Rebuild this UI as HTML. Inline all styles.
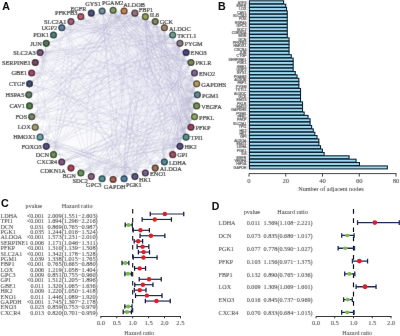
<!DOCTYPE html>
<html><head><meta charset="utf-8"><style>
html,body{margin:0;padding:0;background:#fff;}
body{width:400px;height:336px;overflow:hidden;font-family:"Liberation Serif",serif;}
svg{display:block;}
#wrap{width:400px;height:336px;}
</style></head><body><div id="wrap">
<svg width="400" height="336" viewBox="0 0 400 336" font-family="Liberation Serif">
<defs><filter id="bl" x="0" y="0" width="400" height="336" filterUnits="userSpaceOnUse"><feConvolveMatrix order="3" kernelMatrix="0.0181 0.0519 0.0181 0.0519 0.7200 0.0519 0.0181 0.0519 0.0181" edgeMode="duplicate" preserveAlpha="true"/></filter><filter id="id0" x="0" y="0" width="400" height="336" filterUnits="userSpaceOnUse"><feOffset dx="0" dy="0"/></filter></defs>
<g filter="url(#bl)">
<rect width="400" height="336" fill="#fff"/>
<defs><radialGradient id="gl" cx="0.68" cy="0.35" r="0.75"><stop offset="0" stop-color="#dcdcf0" stop-opacity="0.5"/><stop offset="0.6" stop-color="#e2e2f2" stop-opacity="0.3"/><stop offset="1" stop-color="#e8e8f5" stop-opacity="0"/></radialGradient></defs>
<ellipse cx="113.1" cy="94.85" rx="82.3" ry="82.6" fill="url(#gl)"/>
<path d="M113.1 10.2Q123.9 12.2 134.9 13.1M113.1 10.2Q123.7 13.8 134.9 13.1M113.1 10.2Q123.5 15.3 134.9 13.1M113.1 10.2Q129.0 35.2 155.2 21.6M113.1 10.2Q145.6 28.8 180.0 43.3M113.1 10.2Q143.3 33.5 180.0 43.3M113.1 10.2Q145.3 46.6 191.0 62.5M113.1 10.2Q141.6 52.0 191.0 62.5M113.1 10.2Q137.9 57.5 191.0 62.5M113.1 10.2Q152.4 49.8 196.7 83.8M113.1 10.2Q147.3 55.7 196.7 83.8M113.1 10.2Q142.1 61.5 196.7 83.8M113.1 10.2Q148.4 59.4 197.4 94.8M113.1 10.2Q142.5 65.3 197.4 94.8M113.1 10.2Q136.6 71.2 197.4 94.8M113.1 10.2Q131.9 82.2 191.0 127.2M113.1 10.2Q155.7 70.2 186.1 137.1M113.1 10.2Q145.8 90.6 134.9 176.6M113.1 10.2Q134.1 92.1 134.9 176.6M113.1 10.2Q122.5 93.6 134.9 176.6M113.1 10.2Q99.0 93.0 91.3 176.6M113.1 10.2Q87.3 91.5 91.3 176.6M113.1 10.2Q75.7 89.9 91.3 176.6M113.1 10.2Q87.7 75.3 31.7 116.7M113.1 10.2Q80.3 69.6 31.7 116.7M113.1 10.2Q72.8 63.9 31.7 116.7M113.1 10.2Q88.7 73.3 29.5 105.9M124.1 11.0Q137.7 44.8 172.7 35.0M124.1 11.0Q147.3 50.2 191.0 62.5M124.1 11.0Q160.8 47.0 196.7 83.8M124.1 11.0Q161.2 71.1 186.1 137.1M124.1 11.0Q152.3 75.4 186.1 137.1M124.1 11.0Q131.6 97.3 102.1 178.7M124.1 11.0Q83.4 72.0 35.2 127.2M124.1 11.0Q75.3 65.8 35.2 127.2M124.1 11.0Q90.7 69.1 28.8 94.9M124.1 11.0Q84.8 62.4 28.8 94.9M124.1 11.0Q78.9 55.8 28.8 94.9M124.1 11.0Q81.5 53.5 29.5 83.8M124.1 11.0Q76.4 46.9 29.5 83.8M124.1 11.0Q99.8 44.8 61.8 27.7M124.1 11.0Q98.6 40.4 61.8 27.7M124.1 11.0Q97.4 36.1 61.8 27.7M134.9 13.1Q143.1 22.1 155.2 21.6M134.9 13.1Q149.9 52.7 191.0 62.5M134.9 13.1Q146.4 56.7 191.0 62.5M134.9 13.1Q161.4 46.5 194.5 73.0M134.9 13.1Q168.1 46.5 196.7 83.8M134.9 13.1Q163.1 50.8 196.7 83.8M134.9 13.1Q162.9 56.5 197.4 94.8M134.9 13.1Q144.1 79.5 191.0 127.2M134.9 13.1Q147.7 80.4 186.1 137.1M134.9 13.1Q139.1 84.0 186.1 137.1M134.9 13.1Q130.4 87.6 186.1 137.1M134.9 13.1Q121.0 96.4 102.1 178.7M134.9 13.1Q100.6 85.2 40.1 137.2M134.9 13.1Q91.9 78.6 40.1 137.2M134.9 13.1Q83.3 71.9 40.1 137.2M134.9 13.1Q86.8 68.5 31.7 116.7M134.9 13.1Q79.6 61.3 31.7 116.7M134.9 13.1Q85.0 62.7 29.5 105.9M134.9 13.1Q95.7 59.3 35.2 62.5M134.9 13.1Q92.2 52.3 35.2 62.5M134.9 13.1Q88.5 35.3 40.1 52.5M134.9 13.1Q93.6 37.3 46.2 43.3M134.9 13.1Q96.0 30.7 53.5 35.0M134.9 13.1Q103.6 22.6 70.9 21.6M134.9 13.1Q117.8 23.4 102.1 11.0M145.4 16.7Q147.9 24.1 155.2 21.6M145.4 16.7Q147.5 24.8 155.2 21.6M145.4 16.7Q150.1 30.5 164.4 27.7M145.4 16.7Q148.9 48.0 180.0 43.3M145.4 16.7Q172.6 55.0 197.4 94.8M145.4 16.7Q153.6 71.4 196.7 105.9M145.4 16.7Q147.4 75.0 196.7 105.9M145.4 16.7Q141.1 78.6 196.7 105.9M145.4 16.7Q162.7 70.3 194.5 116.7M145.4 16.7Q155.7 73.8 194.5 116.7M145.4 16.7Q165.0 73.3 191.0 127.2M145.4 16.7Q157.3 76.5 191.0 127.2M145.4 16.7Q146.3 85.9 180.0 146.4M145.4 16.7Q156.7 86.2 172.7 154.7M145.4 16.7Q147.0 88.1 172.7 154.7M145.4 16.7Q149.4 94.8 145.4 173.0M145.4 16.7Q137.6 98.1 124.1 178.7M145.4 16.7Q126.2 96.6 124.1 178.7M145.4 16.7Q98.3 84.9 53.5 154.7M145.4 16.7Q88.6 78.5 53.5 154.7M145.4 16.7Q113.1 45.6 80.8 16.7M145.4 16.7Q113.1 41.1 80.8 16.7M145.4 16.7Q113.1 36.6 80.8 16.7M145.4 16.7Q118.1 18.0 91.3 13.1M155.2 21.6Q150.0 39.4 164.4 27.7M155.2 21.6Q161.8 70.7 196.7 105.9M155.2 21.6Q173.8 69.7 194.5 116.7M155.2 21.6Q167.1 72.4 194.5 116.7M155.2 21.6Q160.5 75.2 194.5 116.7M155.2 21.6Q183.6 70.9 191.0 127.2M155.2 21.6Q176.2 73.4 191.0 127.2M155.2 21.6Q168.9 75.9 191.0 127.2M155.2 21.6Q166.1 80.6 186.1 137.1M155.2 21.6Q146.5 101.5 124.1 178.7M155.2 21.6Q135.5 99.3 124.1 178.7M155.2 21.6Q124.5 97.1 124.1 178.7M155.2 21.6Q104.7 63.3 40.1 52.5M155.2 21.6Q102.6 55.3 40.1 52.5M155.2 21.6Q100.4 47.2 40.1 52.5M155.2 21.6Q108.9 30.4 61.8 27.7M155.2 21.6Q108.5 23.8 61.8 27.7M155.2 21.6Q108.0 17.3 61.8 27.7M164.4 27.7Q161.2 46.6 180.0 43.3M164.4 27.7Q160.1 47.6 180.0 43.3M164.4 27.7Q165.3 48.9 186.1 52.5M164.4 27.7Q166.5 84.2 186.1 137.1M164.4 27.7Q171.3 87.2 180.0 146.4M164.4 27.7Q163.0 88.3 180.0 146.4M164.4 27.7Q153.6 94.8 164.4 162.0M164.4 27.7Q131.1 99.7 124.1 178.7M164.4 27.7Q120.6 96.9 124.1 178.7M164.4 27.7Q92.7 64.3 31.7 116.7M164.4 27.7Q104.1 72.9 29.5 83.8M164.4 27.7Q130.9 28.3 102.1 11.0M164.4 27.7Q132.0 23.9 102.1 11.0M172.7 35.0Q174.5 47.6 186.1 52.5M172.7 35.0Q173.2 48.5 186.1 52.5M172.7 35.0Q173.1 54.6 191.0 62.5M172.7 35.0Q171.2 55.9 191.0 62.5M172.7 35.0Q169.3 57.2 191.0 62.5M172.7 35.0Q100.7 80.8 46.2 146.4M172.7 35.0Q92.9 71.9 46.2 146.4M172.7 35.0Q104.9 84.2 40.1 137.2M172.7 35.0Q97.8 74.9 40.1 137.2M172.7 35.0Q114.2 96.7 31.7 116.7M172.7 35.0Q108.5 86.8 31.7 116.7M172.7 35.0Q102.8 76.9 31.7 116.7M172.7 35.0Q103.5 71.6 28.8 94.9M172.7 35.0Q108.2 57.4 40.1 52.5M172.7 35.0Q107.0 48.1 40.1 52.5M172.7 35.0Q105.7 38.8 40.1 52.5M172.7 35.0Q116.8 38.6 61.8 27.7M180.0 43.3Q174.6 73.9 197.4 94.8M180.0 43.3Q171.0 75.1 197.4 94.8M180.0 43.3Q167.4 76.4 197.4 94.8M180.0 43.3Q173.6 90.9 186.1 137.1M180.0 43.3Q167.0 91.3 186.1 137.1M180.0 43.3Q160.0 101.0 164.4 162.0M180.0 43.3Q157.2 109.9 134.9 176.6M180.0 43.3Q147.9 106.7 134.9 176.6M180.0 43.3Q138.6 103.6 134.9 176.6M180.0 43.3Q141.1 113.6 91.3 176.6M180.0 43.3Q131.8 107.4 91.3 176.6M180.0 43.3Q122.5 101.2 91.3 176.6M180.0 43.3Q112.8 94.5 53.5 154.7M180.0 43.3Q105.0 85.6 53.5 154.7M180.0 43.3Q119.0 103.6 40.1 137.2M180.0 43.3Q112.4 93.8 40.1 137.2M180.0 43.3Q106.9 79.8 29.5 105.9M180.0 43.3Q109.8 44.6 40.1 52.5M180.0 43.3Q123.1 44.3 70.9 21.6M180.0 43.3Q128.8 36.2 80.8 16.7M186.1 52.5Q173.8 64.8 191.0 62.5M186.1 52.5Q169.9 83.5 196.7 105.9M186.1 52.5Q173.2 90.9 191.0 127.2M186.1 52.5Q167.9 91.2 191.0 127.2M186.1 52.5Q167.8 117.6 134.9 176.6M186.1 52.5Q159.2 114.0 134.9 176.6M186.1 52.5Q144.0 112.7 113.1 179.4M186.1 52.5Q135.0 109.6 102.1 178.7M186.1 52.5Q126.2 103.7 102.1 178.7M186.1 52.5Q119.4 100.4 80.8 173.0M186.1 52.5Q104.7 63.3 28.8 94.9M186.1 52.5Q112.5 90.3 31.7 73.0M186.1 52.5Q111.1 79.5 31.7 73.0M186.1 52.5Q109.7 68.7 31.7 73.0M186.1 52.5Q124.7 51.3 70.9 21.6M186.1 52.5Q126.9 43.2 70.9 21.6M186.1 52.5Q129.1 35.2 70.9 21.6M191.0 62.5Q166.3 116.9 145.4 173.0M191.0 62.5Q150.6 113.4 134.9 176.6M191.0 62.5Q166.2 125.6 124.1 178.7M191.0 62.5Q158.1 120.9 124.1 178.7M191.0 62.5Q149.9 116.2 124.1 178.7M191.0 62.5Q146.9 128.7 80.8 173.0M191.0 62.5Q139.2 121.0 80.8 173.0M191.0 62.5Q111.9 90.3 29.5 105.9M191.0 62.5Q108.9 79.0 29.5 105.9M191.0 62.5Q105.8 67.7 29.5 105.9M191.0 62.5Q130.0 53.8 80.8 16.7M194.5 73.0Q175.2 86.6 197.4 94.8M194.5 73.0Q178.9 94.8 194.5 116.7M194.5 73.0Q177.7 99.1 191.0 127.2M194.5 73.0Q173.9 98.8 191.0 127.2M194.5 73.0Q170.1 98.6 191.0 127.2M194.5 73.0Q181.0 103.8 186.1 137.1M194.5 73.0Q179.7 112.8 172.7 154.7M194.5 73.0Q171.1 114.6 164.4 162.0M194.5 73.0Q125.9 120.8 46.2 146.4M194.5 73.0Q120.7 110.4 46.2 146.4M194.5 73.0Q117.8 112.3 31.7 116.7M194.5 73.0Q116.8 66.4 40.1 52.5M196.7 83.8Q184.5 99.5 194.5 116.7M196.7 83.8Q182.2 99.4 194.5 116.7M196.7 83.8Q179.9 99.2 194.5 116.7M196.7 83.8Q185.5 104.4 191.0 127.2M196.7 83.8Q182.4 104.0 191.0 127.2M196.7 83.8Q179.4 103.6 191.0 127.2M196.7 83.8Q170.3 106.3 186.1 137.1M196.7 83.8Q181.0 118.0 172.7 154.7M196.7 83.8Q176.1 116.3 172.7 154.7M196.7 83.8Q171.1 114.6 172.7 154.7M196.7 83.8Q146.8 128.6 102.1 178.7M196.7 83.8Q140.1 122.0 102.1 178.7M196.7 83.8Q116.0 102.0 46.2 146.4M196.7 83.8Q112.9 93.8 31.7 116.7M196.7 83.8Q110.6 82.3 31.7 116.7M196.7 83.8Q140.6 58.8 102.1 11.0M196.7 83.8Q145.7 52.2 102.1 11.0M197.4 94.8Q182.3 99.4 196.7 105.9M197.4 94.8Q181.5 99.4 196.7 105.9M197.4 94.8Q179.4 103.6 194.5 116.7M197.4 94.8Q190.9 115.8 186.1 137.1M197.4 94.8Q174.3 120.3 172.7 154.7M197.4 94.8Q170.1 118.5 172.7 154.7M197.4 94.8Q165.2 120.6 164.4 162.0M197.4 94.8Q160.5 118.3 164.4 162.0M197.4 94.8Q155.8 116.0 164.4 162.0M197.4 94.8Q179.3 133.1 155.2 168.1M197.4 94.8Q151.4 133.2 113.1 179.4M197.4 94.8Q145.5 127.3 113.1 179.4M197.4 94.8Q134.7 132.4 70.9 168.1M197.4 94.8Q129.6 123.5 70.9 168.1M197.4 94.8Q124.5 114.7 70.9 168.1M197.4 94.8Q119.3 126.2 35.2 127.2M197.4 94.8Q118.6 78.6 46.2 43.3M197.4 94.8Q122.2 68.0 46.2 43.3M197.4 94.8Q129.7 61.0 61.8 27.7M197.4 94.8Q132.0 70.1 91.3 13.1M196.7 105.9Q181.2 123.2 180.0 146.4M196.7 105.9Q178.4 122.0 180.0 146.4M196.7 105.9Q167.7 131.4 155.2 168.1M196.7 105.9Q161.5 132.2 145.4 173.0M196.7 105.9Q154.0 141.6 113.1 179.4M196.7 105.9Q148.8 135.7 113.1 179.4M196.7 105.9Q140.7 130.9 102.1 178.7M196.7 105.9Q135.6 124.3 102.1 178.7M196.7 105.9Q132.6 142.0 61.8 162.0M196.7 105.9Q128.7 132.6 61.8 162.0M196.7 105.9Q124.8 123.2 61.8 162.0M196.7 105.9Q113.7 97.8 40.1 137.2M196.7 105.9Q120.0 84.4 70.9 21.6M196.7 105.9Q128.6 74.5 80.8 16.7M196.7 105.9Q134.9 66.4 80.8 16.7M194.5 116.7Q182.5 123.7 186.1 137.1M194.5 116.7Q181.1 123.1 186.1 137.1M194.5 116.7Q179.7 122.5 186.1 137.1M194.5 116.7Q181.1 128.5 180.0 146.4M194.5 116.7Q179.1 127.5 180.0 146.4M194.5 116.7Q177.0 126.5 180.0 146.4M194.5 116.7Q177.0 137.7 164.4 162.0M194.5 116.7Q173.8 135.6 164.4 162.0M194.5 116.7Q128.9 141.4 61.8 162.0M194.5 116.7Q125.7 132.1 61.8 162.0M194.5 116.7Q122.5 122.8 61.8 162.0M194.5 116.7Q111.7 117.0 29.5 105.9M191.0 127.2Q173.9 124.9 186.1 137.1M191.0 127.2Q172.5 129.3 180.0 146.4M191.0 127.2Q171.2 128.5 180.0 146.4M191.0 127.2Q169.8 127.7 180.0 146.4M191.0 127.2Q135.3 148.6 80.8 173.0M191.0 127.2Q125.8 142.2 61.8 162.0M191.0 127.2Q123.3 133.1 61.8 162.0M191.0 127.2Q118.0 85.0 40.1 52.5M191.0 127.2Q123.2 74.4 40.1 52.5M191.0 127.2Q119.3 86.7 61.8 27.7M186.1 137.1Q174.4 136.0 180.0 146.4M186.1 137.1Q173.8 135.5 180.0 146.4M186.1 137.1Q150.5 159.9 113.1 179.4M186.1 137.1Q147.6 154.7 113.1 179.4M186.1 137.1Q141.7 153.0 102.1 178.7M186.1 137.1Q138.8 147.1 102.1 178.7M186.1 137.1Q135.9 141.3 102.1 178.7M186.1 137.1Q121.8 161.3 53.5 154.7M186.1 137.1Q120.6 152.0 53.5 154.7M186.1 137.1Q119.4 142.7 53.5 154.7M186.1 137.1Q104.6 120.0 29.5 83.8M186.1 137.1Q108.3 109.0 29.5 83.8M186.1 137.1Q148.5 71.1 102.1 11.0M180.0 146.4Q157.8 139.7 164.4 162.0M180.0 146.4Q156.7 138.6 164.4 162.0M180.0 146.4Q144.1 148.8 124.1 178.7M180.0 146.4Q139.1 147.7 113.1 179.4M180.0 146.4Q128.5 152.3 80.8 173.0M180.0 146.4Q126.6 145.4 80.8 173.0M180.0 146.4Q124.7 138.4 80.8 173.0M180.0 146.4Q125.0 154.8 70.9 168.1M180.0 146.4Q104.9 136.0 31.7 116.7M180.0 146.4Q107.0 125.6 31.7 116.7M180.0 146.4Q109.1 115.2 31.7 116.7M180.0 146.4Q120.1 90.1 91.3 13.1M180.0 146.4Q129.4 83.9 91.3 13.1M172.7 154.7Q129.6 143.6 102.1 178.7M164.4 162.0Q154.6 157.2 155.2 168.1M164.4 162.0Q136.8 164.8 113.1 179.4M164.4 162.0Q131.0 161.8 102.1 178.7M164.4 162.0Q125.9 159.3 91.3 176.6M164.4 162.0Q124.9 154.2 91.3 176.6M164.4 162.0Q108.7 102.7 29.5 83.8M164.4 162.0Q100.5 104.5 61.8 27.7M164.4 162.0Q109.9 97.3 61.8 27.7M164.4 162.0Q120.5 91.7 102.1 11.0M155.2 168.1Q117.6 164.5 80.8 173.0M155.2 168.1Q103.4 118.5 31.7 116.7M155.2 168.1Q100.3 111.7 31.7 73.0M155.2 168.1Q109.2 99.4 35.2 62.5M155.2 168.1Q107.9 100.2 40.1 52.5M155.2 168.1Q115.9 92.1 40.1 52.5M145.4 173.0Q113.1 159.4 80.8 173.0M145.4 173.0Q90.3 162.1 40.1 137.2M145.4 173.0Q92.8 154.7 40.1 137.2M134.9 176.6Q109.3 152.4 80.8 173.0M134.9 176.6Q109.6 148.6 80.8 173.0M134.9 176.6Q93.0 154.3 46.2 146.4M134.9 176.6Q95.1 148.1 46.2 146.4M134.9 176.6Q84.5 164.1 40.1 137.2M134.9 176.6Q87.2 157.5 40.1 137.2M134.9 176.6Q90.0 150.9 40.1 137.2M134.9 176.6Q88.1 116.8 35.2 62.5M134.9 176.6Q96.1 109.9 35.2 62.5M134.9 176.6Q85.1 116.4 40.1 52.5M134.9 176.6Q93.8 109.7 40.1 52.5M124.1 178.7Q108.1 95.5 102.1 11.0M113.1 179.4Q92.0 157.4 61.8 162.0M113.1 179.4Q86.9 148.2 46.2 146.4M113.1 179.4Q89.2 143.6 46.2 146.4M113.1 179.4Q91.5 138.9 46.2 146.4M113.1 179.4Q100.8 100.0 53.5 35.0M113.1 179.4Q112.0 94.9 102.1 11.0M113.1 179.4Q123.8 94.2 102.1 11.0M113.1 179.4Q135.6 93.4 102.1 11.0M102.1 178.7Q74.1 162.7 46.2 146.4M91.3 176.6Q71.1 112.3 40.1 52.5M91.3 176.6Q79.8 108.7 40.1 52.5M80.8 173.0Q79.5 163.2 70.9 168.1M80.8 173.0Q79.8 162.5 70.9 168.1M80.8 173.0Q80.2 161.9 70.9 168.1M70.9 168.1Q69.3 152.2 53.5 154.7M61.8 162.0Q57.3 137.8 35.2 127.2M61.8 162.0Q53.3 124.4 28.8 94.9M53.5 154.7Q53.7 140.6 40.1 137.2M53.5 154.7Q58.2 87.6 70.9 21.6M53.5 154.7Q67.5 88.8 70.9 21.6M53.5 154.7Q76.8 90.0 70.9 21.6M53.5 154.7Q64.8 78.4 102.1 11.0M53.5 154.7Q74.9 81.8 102.1 11.0M46.2 146.4Q51.4 130.6 35.2 127.2M46.2 146.4Q52.7 129.8 35.2 127.2M46.2 146.4Q58.0 109.7 29.5 83.8M40.1 137.2Q51.8 98.9 35.2 62.5M35.2 127.2Q41.1 94.8 35.2 62.5M29.5 105.9Q60.9 73.1 61.8 27.7M28.8 94.9Q55.2 79.3 40.1 52.5M28.8 94.9Q45.5 71.8 46.2 43.3M28.8 94.9Q49.1 73.0 46.2 43.3M29.5 83.8Q46.5 72.2 40.1 52.5M29.5 83.8Q48.7 72.9 40.1 52.5M29.5 83.8Q50.9 73.7 40.1 52.5M29.5 83.8Q44.6 66.4 46.2 43.3M29.5 83.8Q47.4 67.6 46.2 43.3M35.2 62.5Q58.9 47.1 70.9 21.6M35.2 62.5Q61.8 49.6 70.9 21.6M40.1 52.5Q70.7 31.3 102.1 11.0M46.2 43.3Q70.6 39.3 80.8 16.7M46.2 43.3Q77.2 32.5 102.1 11.0M46.2 43.3Q79.5 36.4 102.1 11.0M70.9 21.6Q89.5 25.1 102.1 11.0" fill="none" stroke="#a8a8cc" stroke-opacity="0.35" stroke-width="0.55"/>
<circle cx="113.10" cy="10.25" r="2.95" fill="rgb(130,154,97)" stroke="rgb(49,63,31)" stroke-width="1.25"/>
<circle cx="124.10" cy="10.97" r="2.95" fill="rgb(195,130,81)" stroke="rgb(85,49,22)" stroke-width="1.25"/>
<circle cx="134.92" cy="13.13" r="2.95" fill="rgb(154,113,122)" stroke="rgb(63,40,45)" stroke-width="1.25"/>
<circle cx="145.36" cy="16.69" r="2.95" fill="rgb(154,163,89)" stroke="rgb(63,67,27)" stroke-width="1.25"/>
<circle cx="155.25" cy="21.58" r="2.95" fill="rgb(130,138,89)" stroke="rgb(49,54,27)" stroke-width="1.25"/>
<circle cx="164.42" cy="27.73" r="2.95" fill="rgb(163,138,105)" stroke="rgb(67,54,36)" stroke-width="1.25"/>
<circle cx="172.71" cy="35.03" r="2.95" fill="rgb(105,163,146)" stroke="rgb(36,67,58)" stroke-width="1.25"/>
<circle cx="179.98" cy="43.35" r="2.95" fill="rgb(138,122,138)" stroke="rgb(54,45,54)" stroke-width="1.25"/>
<circle cx="186.11" cy="52.55" r="2.95" fill="rgb(72,72,130)" stroke="rgb(18,18,49)" stroke-width="1.25"/>
<circle cx="190.98" cy="62.47" r="2.95" fill="rgb(122,138,89)" stroke="rgb(45,54,27)" stroke-width="1.25"/>
<circle cx="194.53" cy="72.95" r="2.95" fill="rgb(122,105,146)" stroke="rgb(45,36,58)" stroke-width="1.25"/>
<circle cx="196.68" cy="83.81" r="2.95" fill="rgb(179,154,97)" stroke="rgb(76,63,31)" stroke-width="1.25"/>
<circle cx="197.40" cy="94.85" r="2.95" fill="rgb(97,138,146)" stroke="rgb(31,54,58)" stroke-width="1.25"/>
<circle cx="196.68" cy="105.89" r="2.95" fill="rgb(122,146,89)" stroke="rgb(45,58,27)" stroke-width="1.25"/>
<circle cx="194.53" cy="116.75" r="2.95" fill="rgb(146,171,97)" stroke="rgb(58,72,31)" stroke-width="1.25"/>
<circle cx="190.98" cy="127.23" r="2.95" fill="rgb(163,64,89)" stroke="rgb(67,13,27)" stroke-width="1.25"/>
<circle cx="186.11" cy="137.15" r="2.95" fill="rgb(89,146,138)" stroke="rgb(27,58,54)" stroke-width="1.25"/>
<circle cx="179.98" cy="146.35" r="2.95" fill="rgb(89,81,130)" stroke="rgb(27,22,49)" stroke-width="1.25"/>
<circle cx="172.71" cy="154.67" r="2.95" fill="rgb(163,81,105)" stroke="rgb(67,22,36)" stroke-width="1.25"/>
<circle cx="164.42" cy="161.97" r="2.95" fill="rgb(81,138,154)" stroke="rgb(22,54,63)" stroke-width="1.25"/>
<circle cx="155.25" cy="168.12" r="2.95" fill="rgb(154,113,89)" stroke="rgb(63,40,27)" stroke-width="1.25"/>
<circle cx="145.36" cy="173.01" r="2.95" fill="rgb(122,97,138)" stroke="rgb(45,31,54)" stroke-width="1.25"/>
<circle cx="134.92" cy="176.57" r="2.95" fill="rgb(97,89,130)" stroke="rgb(31,27,49)" stroke-width="1.25"/>
<circle cx="124.10" cy="178.73" r="2.95" fill="rgb(81,130,171)" stroke="rgb(22,49,72)" stroke-width="1.25"/>
<circle cx="113.10" cy="179.45" r="2.95" fill="rgb(171,97,81)" stroke="rgb(72,31,22)" stroke-width="1.25"/>
<circle cx="102.10" cy="178.73" r="2.95" fill="rgb(89,146,154)" stroke="rgb(27,58,63)" stroke-width="1.25"/>
<circle cx="91.28" cy="176.57" r="2.95" fill="rgb(138,105,130)" stroke="rgb(54,36,49)" stroke-width="1.25"/>
<circle cx="80.84" cy="173.01" r="2.95" fill="rgb(97,154,89)" stroke="rgb(31,63,27)" stroke-width="1.25"/>
<circle cx="70.95" cy="168.12" r="2.95" fill="rgb(179,64,89)" stroke="rgb(76,13,27)" stroke-width="1.25"/>
<circle cx="61.78" cy="161.97" r="2.95" fill="rgb(130,89,130)" stroke="rgb(49,27,49)" stroke-width="1.25"/>
<circle cx="53.49" cy="154.67" r="2.95" fill="rgb(113,146,81)" stroke="rgb(40,58,22)" stroke-width="1.25"/>
<circle cx="46.22" cy="146.35" r="2.95" fill="rgb(89,81,130)" stroke="rgb(27,22,49)" stroke-width="1.25"/>
<circle cx="40.09" cy="137.15" r="2.95" fill="rgb(113,163,179)" stroke="rgb(40,67,76)" stroke-width="1.25"/>
<circle cx="35.22" cy="127.23" r="2.95" fill="rgb(163,163,113)" stroke="rgb(67,67,40)" stroke-width="1.25"/>
<circle cx="31.67" cy="116.75" r="2.95" fill="rgb(122,138,105)" stroke="rgb(45,54,36)" stroke-width="1.25"/>
<circle cx="29.52" cy="105.89" r="2.95" fill="rgb(89,130,81)" stroke="rgb(27,49,22)" stroke-width="1.25"/>
<circle cx="28.80" cy="94.85" r="2.95" fill="rgb(97,130,105)" stroke="rgb(31,49,36)" stroke-width="1.25"/>
<circle cx="29.52" cy="83.81" r="2.95" fill="rgb(64,81,122)" stroke="rgb(13,22,45)" stroke-width="1.25"/>
<circle cx="31.67" cy="72.95" r="2.95" fill="rgb(163,72,113)" stroke="rgb(67,18,40)" stroke-width="1.25"/>
<circle cx="35.22" cy="62.47" r="2.95" fill="rgb(130,72,97)" stroke="rgb(49,18,31)" stroke-width="1.25"/>
<circle cx="40.09" cy="52.55" r="2.95" fill="rgb(122,89,130)" stroke="rgb(45,27,49)" stroke-width="1.25"/>
<circle cx="46.22" cy="43.35" r="2.95" fill="rgb(81,122,89)" stroke="rgb(22,45,27)" stroke-width="1.25"/>
<circle cx="53.49" cy="35.03" r="2.95" fill="rgb(81,130,122)" stroke="rgb(22,49,45)" stroke-width="1.25"/>
<circle cx="61.78" cy="27.73" r="2.95" fill="rgb(97,130,163)" stroke="rgb(31,49,67)" stroke-width="1.25"/>
<circle cx="70.95" cy="21.58" r="2.95" fill="rgb(163,97,130)" stroke="rgb(67,31,49)" stroke-width="1.25"/>
<circle cx="80.84" cy="16.69" r="2.95" fill="rgb(179,97,113)" stroke="rgb(76,31,40)" stroke-width="1.25"/>
<circle cx="91.28" cy="13.13" r="2.95" fill="rgb(72,81,130)" stroke="rgb(18,22,49)" stroke-width="1.25"/>
<circle cx="102.10" cy="10.97" r="2.95" fill="rgb(113,146,163)" stroke="rgb(40,58,67)" stroke-width="1.25"/>
<text x="102.07" y="4.60" font-size="6.6" textLength="21.35" lengthAdjust="spacingAndGlyphs" fill="#222" stroke="#222" stroke-width="0.2">PGAM2</text>
<text x="123.20" y="7.20" font-size="6.6" textLength="21.70" lengthAdjust="spacingAndGlyphs" fill="#222" stroke="#222" stroke-width="0.2">ALDOB</text>
<text x="138.70" y="11.70" font-size="6.6" textLength="14.36" lengthAdjust="spacingAndGlyphs" fill="#222" stroke="#222" stroke-width="0.2">FBP1</text>
<text x="149.80" y="16.80" font-size="6.6" textLength="9.10" lengthAdjust="spacingAndGlyphs" fill="#222" stroke="#222" stroke-width="0.2">IL6</text>
<text x="159.75" y="24.38" font-size="6.6" textLength="13.30" lengthAdjust="spacingAndGlyphs" fill="#222" stroke="#222" stroke-width="0.2">GCK</text>
<text x="168.92" y="30.53" font-size="6.6" textLength="21.70" lengthAdjust="spacingAndGlyphs" fill="#222" stroke="#222" stroke-width="0.2">ALDOC</text>
<text x="177.21" y="37.83" font-size="6.6" textLength="19.24" lengthAdjust="spacingAndGlyphs" fill="#222" stroke="#222" stroke-width="0.2">TKTL1</text>
<text x="184.48" y="46.15" font-size="6.6" textLength="18.20" lengthAdjust="spacingAndGlyphs" fill="#222" stroke="#222" stroke-width="0.2">PYGM</text>
<text x="190.61" y="55.35" font-size="6.6" textLength="16.10" lengthAdjust="spacingAndGlyphs" fill="#222" stroke="#222" stroke-width="0.2">ENO3</text>
<text x="195.48" y="65.27" font-size="6.6" textLength="16.10" lengthAdjust="spacingAndGlyphs" fill="#222" stroke="#222" stroke-width="0.2">PKLR</text>
<text x="199.03" y="75.75" font-size="6.6" textLength="16.10" lengthAdjust="spacingAndGlyphs" fill="#222" stroke="#222" stroke-width="0.2">ENO2</text>
<text x="201.18" y="86.61" font-size="6.6" textLength="25.21" lengthAdjust="spacingAndGlyphs" fill="#222" stroke="#222" stroke-width="0.2">GAPDHS</text>
<text x="201.90" y="97.65" font-size="6.6" textLength="16.81" lengthAdjust="spacingAndGlyphs" fill="#222" stroke="#222" stroke-width="0.2">PGM1</text>
<text x="201.18" y="108.69" font-size="6.6" textLength="20.53" lengthAdjust="spacingAndGlyphs" fill="#222" stroke="#222" stroke-width="0.2">VEGFA</text>
<text x="199.03" y="119.55" font-size="6.6" textLength="15.41" lengthAdjust="spacingAndGlyphs" fill="#222" stroke="#222" stroke-width="0.2">PFKL</text>
<text x="195.48" y="130.03" font-size="6.6" textLength="15.06" lengthAdjust="spacingAndGlyphs" fill="#222" stroke="#222" stroke-width="0.2">PFKP</text>
<text x="190.61" y="139.95" font-size="6.6" textLength="12.60" lengthAdjust="spacingAndGlyphs" fill="#222" stroke="#222" stroke-width="0.2">TPI1</text>
<text x="184.48" y="149.15" font-size="6.6" textLength="12.25" lengthAdjust="spacingAndGlyphs" fill="#222" stroke="#222" stroke-width="0.2">HK2</text>
<text x="177.21" y="157.47" font-size="6.6" textLength="10.15" lengthAdjust="spacingAndGlyphs" fill="#222" stroke="#222" stroke-width="0.2">GPI</text>
<text x="168.92" y="164.77" font-size="6.6" textLength="17.50" lengthAdjust="spacingAndGlyphs" fill="#222" stroke="#222" stroke-width="0.2">LDHA</text>
<text x="159.75" y="170.92" font-size="6.6" textLength="22.05" lengthAdjust="spacingAndGlyphs" fill="#222" stroke="#222" stroke-width="0.2">ALDOA</text>
<text x="150.00" y="176.40" font-size="6.6" textLength="16.10" lengthAdjust="spacingAndGlyphs" fill="#222" stroke="#222" stroke-width="0.2">ENO1</text>
<text x="139.00" y="182.00" font-size="6.6" textLength="12.25" lengthAdjust="spacingAndGlyphs" fill="#222" stroke="#222" stroke-width="0.2">HK1</text>
<text x="126.00" y="187.00" font-size="6.6" textLength="15.75" lengthAdjust="spacingAndGlyphs" fill="#222" stroke="#222" stroke-width="0.2">PGK1</text>
<text x="103.85" y="189.20" font-size="6.6" textLength="21.70" lengthAdjust="spacingAndGlyphs" fill="#222" stroke="#222" stroke-width="0.2">GAPDH</text>
<text x="86.09" y="187.00" font-size="6.6" textLength="15.41" lengthAdjust="spacingAndGlyphs" fill="#222" stroke="#222" stroke-width="0.2">GPC3</text>
<text x="72.39" y="183.20" font-size="6.6" textLength="15.41" lengthAdjust="spacingAndGlyphs" fill="#222" stroke="#222" stroke-width="0.2">SDC2</text>
<text x="62.60" y="177.90" font-size="6.6" textLength="13.30" lengthAdjust="spacingAndGlyphs" fill="#222" stroke="#222" stroke-width="0.2">BGN</text>
<text x="40.35" y="172.70" font-size="6.6" textLength="25.55" lengthAdjust="spacingAndGlyphs" fill="#222" stroke="#222" stroke-width="0.2">CDKN1A</text>
<text x="36.98" y="164.17" font-size="6.6" textLength="20.31" lengthAdjust="spacingAndGlyphs" fill="#222" stroke="#222" stroke-width="0.2">CXCR4</text>
<text x="35.69" y="156.87" font-size="6.6" textLength="13.30" lengthAdjust="spacingAndGlyphs" fill="#222" stroke="#222" stroke-width="0.2">DCN</text>
<text x="21.42" y="148.55" font-size="6.6" textLength="20.30" lengthAdjust="spacingAndGlyphs" fill="#222" stroke="#222" stroke-width="0.2">FOXO3</text>
<text x="13.19" y="139.35" font-size="6.6" textLength="22.40" lengthAdjust="spacingAndGlyphs" fill="#222" stroke="#222" stroke-width="0.2">HMOX1</text>
<text x="17.77" y="129.43" font-size="6.6" textLength="12.95" lengthAdjust="spacingAndGlyphs" fill="#222" stroke="#222" stroke-width="0.2">LOX</text>
<text x="15.62" y="118.95" font-size="6.6" textLength="11.56" lengthAdjust="spacingAndGlyphs" fill="#222" stroke="#222" stroke-width="0.2">FOS</text>
<text x="9.38" y="108.09" font-size="6.6" textLength="15.64" lengthAdjust="spacingAndGlyphs" fill="#222" stroke="#222" stroke-width="0.2">CAV1</text>
<text x="5.62" y="97.05" font-size="6.6" textLength="18.68" lengthAdjust="spacingAndGlyphs" fill="#222" stroke="#222" stroke-width="0.2">HSPA5</text>
<text x="8.92" y="86.01" font-size="6.6" textLength="16.10" lengthAdjust="spacingAndGlyphs" fill="#222" stroke="#222" stroke-width="0.2">CTGF</text>
<text x="11.42" y="75.15" font-size="6.6" textLength="15.75" lengthAdjust="spacingAndGlyphs" fill="#222" stroke="#222" stroke-width="0.2">GBE1</text>
<text x="2.01" y="64.67" font-size="6.6" textLength="28.70" lengthAdjust="spacingAndGlyphs" fill="#222" stroke="#222" stroke-width="0.2">SERPINE1</text>
<text x="13.19" y="54.75" font-size="6.6" textLength="22.40" lengthAdjust="spacingAndGlyphs" fill="#222" stroke="#222" stroke-width="0.2">SLC2A3</text>
<text x="30.17" y="45.55" font-size="6.6" textLength="11.55" lengthAdjust="spacingAndGlyphs" fill="#222" stroke="#222" stroke-width="0.2">JUN</text>
<text x="33.24" y="37.23" font-size="6.6" textLength="15.75" lengthAdjust="spacingAndGlyphs" fill="#222" stroke="#222" stroke-width="0.2">PDK1</text>
<text x="41.53" y="29.93" font-size="6.6" textLength="15.75" lengthAdjust="spacingAndGlyphs" fill="#222" stroke="#222" stroke-width="0.2">UGP2</text>
<text x="44.05" y="23.78" font-size="6.6" textLength="22.40" lengthAdjust="spacingAndGlyphs" fill="#222" stroke="#222" stroke-width="0.2">SLC2A1</text>
<text x="54.99" y="15.20" font-size="6.6" textLength="22.41" lengthAdjust="spacingAndGlyphs" fill="#222" stroke="#222" stroke-width="0.2">PFKFB3</text>
<text x="70.40" y="10.60" font-size="6.6" textLength="16.10" lengthAdjust="spacingAndGlyphs" fill="#222" stroke="#222" stroke-width="0.2">EGFR</text>
<text x="85.25" y="6.30" font-size="6.6" textLength="15.75" lengthAdjust="spacingAndGlyphs" fill="#222" stroke="#222" stroke-width="0.2">GYS1</text>
<text x="246.40" y="3.54" font-size="3.6" font-family="Liberation Sans" text-anchor="end" fill="#555" stroke="#555" stroke-width="0.22">ATF3</text>
<text x="246.40" y="6.91" font-size="3.6" font-family="Liberation Sans" text-anchor="end" fill="#555" stroke="#555" stroke-width="0.22">EGFR</text>
<text x="246.40" y="10.28" font-size="3.6" font-family="Liberation Sans" text-anchor="end" fill="#555" stroke="#555" stroke-width="0.22">LOX</text>
<text x="246.40" y="13.64" font-size="3.6" font-family="Liberation Sans" text-anchor="end" fill="#555" stroke="#555" stroke-width="0.22">CAV1</text>
<text x="246.40" y="17.02" font-size="3.6" font-family="Liberation Sans" text-anchor="end" fill="#555" stroke="#555" stroke-width="0.22">SLC2A3</text>
<text x="246.40" y="20.39" font-size="3.6" font-family="Liberation Sans" text-anchor="end" fill="#555" stroke="#555" stroke-width="0.22">FOS</text>
<text x="246.40" y="23.75" font-size="3.6" font-family="Liberation Sans" text-anchor="end" fill="#555" stroke="#555" stroke-width="0.22">HSPA5</text>
<text x="246.40" y="27.12" font-size="3.6" font-family="Liberation Sans" text-anchor="end" fill="#555" stroke="#555" stroke-width="0.22">GPC3</text>
<text x="246.40" y="30.50" font-size="3.6" font-family="Liberation Sans" text-anchor="end" fill="#555" stroke="#555" stroke-width="0.22">SDC2</text>
<text x="246.40" y="33.87" font-size="3.6" font-family="Liberation Sans" text-anchor="end" fill="#555" stroke="#555" stroke-width="0.22">CDKN1A</text>
<text x="246.40" y="37.24" font-size="3.6" font-family="Liberation Sans" text-anchor="end" fill="#555" stroke="#555" stroke-width="0.22">BGN</text>
<text x="246.40" y="40.61" font-size="3.6" font-family="Liberation Sans" text-anchor="end" fill="#555" stroke="#555" stroke-width="0.22">DCN</text>
<text x="246.40" y="43.98" font-size="3.6" font-family="Liberation Sans" text-anchor="end" fill="#555" stroke="#555" stroke-width="0.22">PFKFB3</text>
<text x="246.40" y="47.35" font-size="3.6" font-family="Liberation Sans" text-anchor="end" fill="#555" stroke="#555" stroke-width="0.22">HMOX1</text>
<text x="246.40" y="50.72" font-size="3.6" font-family="Liberation Sans" text-anchor="end" fill="#555" stroke="#555" stroke-width="0.22">CXCR4</text>
<text x="246.40" y="54.09" font-size="3.6" font-family="Liberation Sans" text-anchor="end" fill="#555" stroke="#555" stroke-width="0.22">JUN</text>
<text x="246.40" y="57.46" font-size="3.6" font-family="Liberation Sans" text-anchor="end" fill="#555" stroke="#555" stroke-width="0.22">CTGF</text>
<text x="246.40" y="60.83" font-size="3.6" font-family="Liberation Sans" text-anchor="end" fill="#555" stroke="#555" stroke-width="0.22">SERPINE1</text>
<text x="246.40" y="64.20" font-size="3.6" font-family="Liberation Sans" text-anchor="end" fill="#555" stroke="#555" stroke-width="0.22">PDK1</text>
<text x="246.40" y="67.56" font-size="3.6" font-family="Liberation Sans" text-anchor="end" fill="#555" stroke="#555" stroke-width="0.22">GBE1</text>
<text x="246.40" y="70.94" font-size="3.6" font-family="Liberation Sans" text-anchor="end" fill="#555" stroke="#555" stroke-width="0.22">UGP2</text>
<text x="246.40" y="74.30" font-size="3.6" font-family="Liberation Sans" text-anchor="end" fill="#555" stroke="#555" stroke-width="0.22">GYS1</text>
<text x="246.40" y="77.67" font-size="3.6" font-family="Liberation Sans" text-anchor="end" fill="#555" stroke="#555" stroke-width="0.22">PGAM2</text>
<text x="246.40" y="81.05" font-size="3.6" font-family="Liberation Sans" text-anchor="end" fill="#555" stroke="#555" stroke-width="0.22">ALDOB</text>
<text x="246.40" y="84.41" font-size="3.6" font-family="Liberation Sans" text-anchor="end" fill="#555" stroke="#555" stroke-width="0.22">FBP1</text>
<text x="246.40" y="87.78" font-size="3.6" font-family="Liberation Sans" text-anchor="end" fill="#555" stroke="#555" stroke-width="0.22">PYGM</text>
<text x="246.40" y="91.16" font-size="3.6" font-family="Liberation Sans" text-anchor="end" fill="#555" stroke="#555" stroke-width="0.22">TKTL1</text>
<text x="246.40" y="94.53" font-size="3.6" font-family="Liberation Sans" text-anchor="end" fill="#555" stroke="#555" stroke-width="0.22">ALDOC</text>
<text x="246.40" y="97.89" font-size="3.6" font-family="Liberation Sans" text-anchor="end" fill="#555" stroke="#555" stroke-width="0.22">GCK</text>
<text x="246.40" y="101.27" font-size="3.6" font-family="Liberation Sans" text-anchor="end" fill="#555" stroke="#555" stroke-width="0.22">ENO3</text>
<text x="246.40" y="104.64" font-size="3.6" font-family="Liberation Sans" text-anchor="end" fill="#555" stroke="#555" stroke-width="0.22">PKLR</text>
<text x="246.40" y="108.00" font-size="3.6" font-family="Liberation Sans" text-anchor="end" fill="#555" stroke="#555" stroke-width="0.22">ENO2</text>
<text x="246.40" y="111.38" font-size="3.6" font-family="Liberation Sans" text-anchor="end" fill="#555" stroke="#555" stroke-width="0.22">GAPDHS</text>
<text x="246.40" y="114.75" font-size="3.6" font-family="Liberation Sans" text-anchor="end" fill="#555" stroke="#555" stroke-width="0.22">PGM1</text>
<text x="246.40" y="118.11" font-size="3.6" font-family="Liberation Sans" text-anchor="end" fill="#555" stroke="#555" stroke-width="0.22">PFKL</text>
<text x="246.40" y="121.48" font-size="3.6" font-family="Liberation Sans" text-anchor="end" fill="#555" stroke="#555" stroke-width="0.22">PFKP</text>
<text x="246.40" y="124.86" font-size="3.6" font-family="Liberation Sans" text-anchor="end" fill="#555" stroke="#555" stroke-width="0.22">SLC2A1</text>
<text x="246.40" y="128.22" font-size="3.6" font-family="Liberation Sans" text-anchor="end" fill="#555" stroke="#555" stroke-width="0.22">TPI1</text>
<text x="246.40" y="131.59" font-size="3.6" font-family="Liberation Sans" text-anchor="end" fill="#555" stroke="#555" stroke-width="0.22">HK2</text>
<text x="246.40" y="134.97" font-size="3.6" font-family="Liberation Sans" text-anchor="end" fill="#555" stroke="#555" stroke-width="0.22">HK1</text>
<text x="246.40" y="138.34" font-size="3.6" font-family="Liberation Sans" text-anchor="end" fill="#555" stroke="#555" stroke-width="0.22">GPI</text>
<text x="246.40" y="141.71" font-size="3.6" font-family="Liberation Sans" text-anchor="end" fill="#555" stroke="#555" stroke-width="0.22">ALDOA</text>
<text x="246.40" y="145.07" font-size="3.6" font-family="Liberation Sans" text-anchor="end" fill="#555" stroke="#555" stroke-width="0.22">ENO1</text>
<text x="246.40" y="148.44" font-size="3.6" font-family="Liberation Sans" text-anchor="end" fill="#555" stroke="#555" stroke-width="0.22">LDHA</text>
<text x="246.40" y="151.81" font-size="3.6" font-family="Liberation Sans" text-anchor="end" fill="#555" stroke="#555" stroke-width="0.22">PGK1</text>
<text x="246.40" y="155.19" font-size="3.6" font-family="Liberation Sans" text-anchor="end" fill="#555" stroke="#555" stroke-width="0.22">IL6</text>
<text x="246.40" y="158.56" font-size="3.6" font-family="Liberation Sans" text-anchor="end" fill="#555" stroke="#555" stroke-width="0.22">EGFR</text>
<text x="246.40" y="161.93" font-size="3.6" font-family="Liberation Sans" text-anchor="end" fill="#555" stroke="#555" stroke-width="0.22">VEGFA</text>
<text x="246.40" y="165.29" font-size="3.6" font-family="Liberation Sans" text-anchor="end" fill="#555" stroke="#555" stroke-width="0.22">HIF1A</text>
<text x="246.40" y="168.66" font-size="3.6" font-family="Liberation Sans" text-anchor="end" fill="#555" stroke="#555" stroke-width="0.22">GAPDH</text>
<text x="249.00" y="182.60" font-size="6.6" text-anchor="middle" fill="#222" stroke="#222" stroke-width="0.03">0</text>
<text x="285.75" y="182.60" font-size="6.6" text-anchor="middle" fill="#222" stroke="#222" stroke-width="0.03">20</text>
<text x="322.50" y="182.60" font-size="6.6" text-anchor="middle" fill="#222" stroke="#222" stroke-width="0.03">40</text>
<text x="359.25" y="182.60" font-size="6.6" text-anchor="middle" fill="#222" stroke="#222" stroke-width="0.03">60</text>
<text x="396.00" y="182.60" font-size="6.6" text-anchor="middle" fill="#222" stroke="#222" stroke-width="0.03">80</text>
<text x="298.20" y="190.60" font-size="6.6" textLength="65.40" lengthAdjust="spacingAndGlyphs" fill="#222" stroke="#222" stroke-width="0.03">Number of adjacent nodes</text>
<text x="25.60" y="208.10" font-size="6.6" textLength="16.26" lengthAdjust="spacingAndGlyphs" fill="#222" stroke="#222" stroke-width="0.03">pvalue</text>
<text x="61.70" y="208.20" font-size="6.6" textLength="30.80" lengthAdjust="spacingAndGlyphs" fill="#222" stroke="#222" stroke-width="0.03">Hazard ratio</text>
<text x="0.60" y="217.90" font-size="6.6" textLength="16.94" lengthAdjust="spacingAndGlyphs" fill="#222" stroke="#222" stroke-width="0.03">LDHA</text>
<text x="44.00" y="217.90" font-size="6.6" text-anchor="end" textLength="17.17" lengthAdjust="spacingAndGlyphs" fill="#222" stroke="#222" stroke-width="0.03">&lt;0.001</text>
<text x="47.50" y="217.90" font-size="6.6" textLength="50.20" lengthAdjust="spacingAndGlyphs" fill="#222" stroke="#222" stroke-width="0.03">2.009(1.551−2.603)</text>
<text x="0.60" y="223.28" font-size="6.6" textLength="12.20" lengthAdjust="spacingAndGlyphs" fill="#222" stroke="#222" stroke-width="0.03">TPI1</text>
<text x="44.00" y="223.28" font-size="6.6" text-anchor="end" textLength="17.17" lengthAdjust="spacingAndGlyphs" fill="#222" stroke="#222" stroke-width="0.03">&lt;0.001</text>
<text x="47.50" y="223.28" font-size="6.6" textLength="50.20" lengthAdjust="spacingAndGlyphs" fill="#222" stroke="#222" stroke-width="0.03">1.694(1.296−2.216)</text>
<text x="0.60" y="228.66" font-size="6.6" textLength="12.88" lengthAdjust="spacingAndGlyphs" fill="#222" stroke="#222" stroke-width="0.03">DCN</text>
<text x="44.00" y="228.66" font-size="6.6" text-anchor="end" textLength="13.72" lengthAdjust="spacingAndGlyphs" fill="#222" stroke="#222" stroke-width="0.03">0.031</text>
<text x="47.50" y="228.66" font-size="6.6" textLength="50.20" lengthAdjust="spacingAndGlyphs" fill="#222" stroke="#222" stroke-width="0.03">0.869(0.765−0.987)</text>
<text x="0.60" y="234.04" font-size="6.6" textLength="15.25" lengthAdjust="spacingAndGlyphs" fill="#222" stroke="#222" stroke-width="0.03">PGK1</text>
<text x="44.00" y="234.04" font-size="6.6" text-anchor="end" textLength="13.72" lengthAdjust="spacingAndGlyphs" fill="#222" stroke="#222" stroke-width="0.03">0.035</text>
<text x="47.50" y="234.04" font-size="6.6" textLength="50.20" lengthAdjust="spacingAndGlyphs" fill="#222" stroke="#222" stroke-width="0.03">1.244(1.016−1.524)</text>
<text x="0.60" y="239.42" font-size="6.6" textLength="21.35" lengthAdjust="spacingAndGlyphs" fill="#222" stroke="#222" stroke-width="0.03">ALDOA</text>
<text x="44.00" y="239.42" font-size="6.6" text-anchor="end" textLength="17.17" lengthAdjust="spacingAndGlyphs" fill="#222" stroke="#222" stroke-width="0.03">&lt;0.001</text>
<text x="47.50" y="239.42" font-size="6.6" textLength="50.20" lengthAdjust="spacingAndGlyphs" fill="#222" stroke="#222" stroke-width="0.03">1.573(1.231−2.010)</text>
<text x="0.60" y="244.80" font-size="6.6" textLength="27.79" lengthAdjust="spacingAndGlyphs" fill="#222" stroke="#222" stroke-width="0.03">SERPINE1</text>
<text x="44.00" y="244.80" font-size="6.6" text-anchor="end" textLength="13.72" lengthAdjust="spacingAndGlyphs" fill="#222" stroke="#222" stroke-width="0.03">0.006</text>
<text x="47.50" y="244.80" font-size="6.6" textLength="50.20" lengthAdjust="spacingAndGlyphs" fill="#222" stroke="#222" stroke-width="0.03">1.171(1.046−1.311)</text>
<text x="0.60" y="250.18" font-size="6.6" textLength="14.58" lengthAdjust="spacingAndGlyphs" fill="#222" stroke="#222" stroke-width="0.03">PFKP</text>
<text x="44.00" y="250.18" font-size="6.6" text-anchor="end" textLength="17.17" lengthAdjust="spacingAndGlyphs" fill="#222" stroke="#222" stroke-width="0.03">&lt;0.001</text>
<text x="47.50" y="250.18" font-size="6.6" textLength="50.20" lengthAdjust="spacingAndGlyphs" fill="#222" stroke="#222" stroke-width="0.03">1.310(1.139−1.508)</text>
<text x="0.60" y="255.56" font-size="6.6" textLength="21.69" lengthAdjust="spacingAndGlyphs" fill="#222" stroke="#222" stroke-width="0.03">SLC2A1</text>
<text x="44.00" y="255.56" font-size="6.6" text-anchor="end" textLength="17.17" lengthAdjust="spacingAndGlyphs" fill="#222" stroke="#222" stroke-width="0.03">&lt;0.001</text>
<text x="47.50" y="255.56" font-size="6.6" textLength="50.20" lengthAdjust="spacingAndGlyphs" fill="#222" stroke="#222" stroke-width="0.03">1.342(1.178−1.528)</text>
<text x="0.60" y="260.94" font-size="6.6" textLength="16.27" lengthAdjust="spacingAndGlyphs" fill="#222" stroke="#222" stroke-width="0.03">PGM1</text>
<text x="44.00" y="260.94" font-size="6.6" text-anchor="end" textLength="13.72" lengthAdjust="spacingAndGlyphs" fill="#222" stroke="#222" stroke-width="0.03">0.039</text>
<text x="47.50" y="260.94" font-size="6.6" textLength="50.20" lengthAdjust="spacingAndGlyphs" fill="#222" stroke="#222" stroke-width="0.03">1.338(1.015−1.765)</text>
<text x="0.60" y="266.32" font-size="6.6" textLength="13.90" lengthAdjust="spacingAndGlyphs" fill="#222" stroke="#222" stroke-width="0.03">FBP1</text>
<text x="44.00" y="266.32" font-size="6.6" text-anchor="end" textLength="17.17" lengthAdjust="spacingAndGlyphs" fill="#222" stroke="#222" stroke-width="0.03">&lt;0.001</text>
<text x="47.50" y="266.32" font-size="6.6" textLength="50.20" lengthAdjust="spacingAndGlyphs" fill="#222" stroke="#222" stroke-width="0.03">0.765(0.665−0.880)</text>
<text x="0.60" y="271.70" font-size="6.6" textLength="12.54" lengthAdjust="spacingAndGlyphs" fill="#222" stroke="#222" stroke-width="0.03">LOX</text>
<text x="44.00" y="271.70" font-size="6.6" text-anchor="end" textLength="13.72" lengthAdjust="spacingAndGlyphs" fill="#222" stroke="#222" stroke-width="0.03">0.006</text>
<text x="47.50" y="271.70" font-size="6.6" textLength="50.20" lengthAdjust="spacingAndGlyphs" fill="#222" stroke="#222" stroke-width="0.03">1.219(1.058−1.404)</text>
<text x="0.60" y="277.08" font-size="6.6" textLength="14.92" lengthAdjust="spacingAndGlyphs" fill="#222" stroke="#222" stroke-width="0.03">GPC3</text>
<text x="44.00" y="277.08" font-size="6.6" text-anchor="end" textLength="13.72" lengthAdjust="spacingAndGlyphs" fill="#222" stroke="#222" stroke-width="0.03">0.009</text>
<text x="47.50" y="277.08" font-size="6.6" textLength="50.20" lengthAdjust="spacingAndGlyphs" fill="#222" stroke="#222" stroke-width="0.03">0.851(0.755−0.960)</text>
<text x="0.60" y="282.46" font-size="6.6" textLength="9.83" lengthAdjust="spacingAndGlyphs" fill="#222" stroke="#222" stroke-width="0.03">GPI</text>
<text x="44.00" y="282.46" font-size="6.6" text-anchor="end" textLength="17.17" lengthAdjust="spacingAndGlyphs" fill="#222" stroke="#222" stroke-width="0.03">&lt;0.001</text>
<text x="47.50" y="282.46" font-size="6.6" textLength="50.20" lengthAdjust="spacingAndGlyphs" fill="#222" stroke="#222" stroke-width="0.03">1.512(1.205−1.896)</text>
<text x="0.60" y="287.84" font-size="6.6" textLength="15.25" lengthAdjust="spacingAndGlyphs" fill="#222" stroke="#222" stroke-width="0.03">GBE1</text>
<text x="44.00" y="287.84" font-size="6.6" text-anchor="end" textLength="13.50" lengthAdjust="spacingAndGlyphs" fill="#222" stroke="#222" stroke-width="0.03">0.011</text>
<text x="47.50" y="287.84" font-size="6.6" textLength="50.20" lengthAdjust="spacingAndGlyphs" fill="#222" stroke="#222" stroke-width="0.03">1.320(1.065−1.636)</text>
<text x="0.60" y="293.22" font-size="6.6" textLength="11.86" lengthAdjust="spacingAndGlyphs" fill="#222" stroke="#222" stroke-width="0.03">HK2</text>
<text x="44.00" y="293.22" font-size="6.6" text-anchor="end" textLength="13.72" lengthAdjust="spacingAndGlyphs" fill="#222" stroke="#222" stroke-width="0.03">0.009</text>
<text x="47.50" y="293.22" font-size="6.6" textLength="50.20" lengthAdjust="spacingAndGlyphs" fill="#222" stroke="#222" stroke-width="0.03">1.220(1.050−1.418)</text>
<text x="0.60" y="298.60" font-size="6.6" textLength="15.59" lengthAdjust="spacingAndGlyphs" fill="#222" stroke="#222" stroke-width="0.03">ENO1</text>
<text x="44.00" y="298.60" font-size="6.6" text-anchor="end" textLength="13.50" lengthAdjust="spacingAndGlyphs" fill="#222" stroke="#222" stroke-width="0.03">0.011</text>
<text x="47.50" y="298.60" font-size="6.6" textLength="50.20" lengthAdjust="spacingAndGlyphs" fill="#222" stroke="#222" stroke-width="0.03">1.446(1.089−1.920)</text>
<text x="0.60" y="303.98" font-size="6.6" textLength="21.01" lengthAdjust="spacingAndGlyphs" fill="#222" stroke="#222" stroke-width="0.03">GAPDH</text>
<text x="44.00" y="303.98" font-size="6.6" text-anchor="end" textLength="17.17" lengthAdjust="spacingAndGlyphs" fill="#222" stroke="#222" stroke-width="0.03">&lt;0.001</text>
<text x="47.50" y="303.98" font-size="6.6" textLength="50.20" lengthAdjust="spacingAndGlyphs" fill="#222" stroke="#222" stroke-width="0.03">1.745(1.397−2.178)</text>
<text x="0.60" y="309.36" font-size="6.6" textLength="15.59" lengthAdjust="spacingAndGlyphs" fill="#222" stroke="#222" stroke-width="0.03">ENO3</text>
<text x="44.00" y="309.36" font-size="6.6" text-anchor="end" textLength="13.72" lengthAdjust="spacingAndGlyphs" fill="#222" stroke="#222" stroke-width="0.03">0.023</text>
<text x="47.50" y="309.36" font-size="6.6" textLength="50.20" lengthAdjust="spacingAndGlyphs" fill="#222" stroke="#222" stroke-width="0.03">0.859(0.753−0.979)</text>
<text x="0.60" y="314.74" font-size="6.6" textLength="19.66" lengthAdjust="spacingAndGlyphs" fill="#222" stroke="#222" stroke-width="0.03">CXCR4</text>
<text x="44.00" y="314.74" font-size="6.6" text-anchor="end" textLength="13.72" lengthAdjust="spacingAndGlyphs" fill="#222" stroke="#222" stroke-width="0.03">0.013</text>
<text x="47.50" y="314.74" font-size="6.6" textLength="50.20" lengthAdjust="spacingAndGlyphs" fill="#222" stroke="#222" stroke-width="0.03">0.820(0.701−0.959)</text>
<text x="100.85" y="324.60" font-size="6.6" text-anchor="middle" fill="#222" stroke="#222" stroke-width="0.03">0.0</text>
<text x="116.77" y="324.60" font-size="6.6" text-anchor="middle" fill="#222" stroke="#222" stroke-width="0.03">0.5</text>
<text x="132.70" y="324.60" font-size="6.6" text-anchor="middle" fill="#222" stroke="#222" stroke-width="0.03">1.0</text>
<text x="148.62" y="324.60" font-size="6.6" text-anchor="middle" fill="#222" stroke="#222" stroke-width="0.03">1.5</text>
<text x="164.55" y="324.60" font-size="6.6" text-anchor="middle" fill="#222" stroke="#222" stroke-width="0.03">2.0</text>
<text x="180.47" y="324.60" font-size="6.6" text-anchor="middle" fill="#222" stroke="#222" stroke-width="0.03">2.5</text>
<text x="124.25" y="334.50" font-size="6.8" textLength="29.70" lengthAdjust="spacingAndGlyphs" fill="#222" stroke="#222" stroke-width="0.03">Hazard ratio</text>
<text x="243.70" y="214.20" font-size="6.6" textLength="16.26" lengthAdjust="spacingAndGlyphs" fill="#222" stroke="#222" stroke-width="0.03">pvalue</text>
<text x="277.20" y="214.30" font-size="6.6" textLength="30.60" lengthAdjust="spacingAndGlyphs" fill="#222" stroke="#222" stroke-width="0.03">Hazard ratio</text>
<text x="218.60" y="225.20" font-size="6.6" textLength="16.94" lengthAdjust="spacingAndGlyphs" fill="#222" stroke="#222" stroke-width="0.03">LDHA</text>
<text x="246.80" y="225.20" font-size="6.6" textLength="13.50" lengthAdjust="spacingAndGlyphs" fill="#222" stroke="#222" stroke-width="0.03">0.011</text>
<text x="263.60" y="225.20" font-size="6.6" textLength="49.00" lengthAdjust="spacingAndGlyphs" fill="#222" stroke="#222" stroke-width="0.03">1.569(1.108−2.221)</text>
<text x="218.60" y="238.03" font-size="6.6" textLength="12.88" lengthAdjust="spacingAndGlyphs" fill="#222" stroke="#222" stroke-width="0.03">DCN</text>
<text x="246.80" y="238.03" font-size="6.6" textLength="13.72" lengthAdjust="spacingAndGlyphs" fill="#222" stroke="#222" stroke-width="0.03">0.073</text>
<text x="263.60" y="238.03" font-size="6.6" textLength="49.00" lengthAdjust="spacingAndGlyphs" fill="#222" stroke="#222" stroke-width="0.03">0.835(0.686−1.017)</text>
<text x="218.60" y="250.86" font-size="6.6" textLength="15.25" lengthAdjust="spacingAndGlyphs" fill="#222" stroke="#222" stroke-width="0.03">PGK1</text>
<text x="246.80" y="250.86" font-size="6.6" textLength="13.72" lengthAdjust="spacingAndGlyphs" fill="#222" stroke="#222" stroke-width="0.03">0.077</text>
<text x="263.60" y="250.86" font-size="6.6" textLength="49.00" lengthAdjust="spacingAndGlyphs" fill="#222" stroke="#222" stroke-width="0.03">0.778(0.590−1.027)</text>
<text x="218.60" y="263.69" font-size="6.6" textLength="14.58" lengthAdjust="spacingAndGlyphs" fill="#222" stroke="#222" stroke-width="0.03">PFKP</text>
<text x="246.80" y="263.69" font-size="6.6" textLength="13.72" lengthAdjust="spacingAndGlyphs" fill="#222" stroke="#222" stroke-width="0.03">0.103</text>
<text x="263.60" y="263.69" font-size="6.6" textLength="49.00" lengthAdjust="spacingAndGlyphs" fill="#222" stroke="#222" stroke-width="0.03">1.156(0.971−1.375)</text>
<text x="218.60" y="276.52" font-size="6.6" textLength="13.90" lengthAdjust="spacingAndGlyphs" fill="#222" stroke="#222" stroke-width="0.03">FBP1</text>
<text x="246.80" y="276.52" font-size="6.6" textLength="13.72" lengthAdjust="spacingAndGlyphs" fill="#222" stroke="#222" stroke-width="0.03">0.132</text>
<text x="263.60" y="276.52" font-size="6.6" textLength="49.00" lengthAdjust="spacingAndGlyphs" fill="#222" stroke="#222" stroke-width="0.03">0.890(0.765−1.036)</text>
<text x="218.60" y="289.35" font-size="6.6" textLength="12.54" lengthAdjust="spacingAndGlyphs" fill="#222" stroke="#222" stroke-width="0.03">LOX</text>
<text x="246.80" y="289.35" font-size="6.6" textLength="13.72" lengthAdjust="spacingAndGlyphs" fill="#222" stroke="#222" stroke-width="0.03">0.009</text>
<text x="263.60" y="289.35" font-size="6.6" textLength="49.00" lengthAdjust="spacingAndGlyphs" fill="#222" stroke="#222" stroke-width="0.03">1.309(1.069−1.601)</text>
<text x="218.60" y="302.18" font-size="6.6" textLength="15.59" lengthAdjust="spacingAndGlyphs" fill="#222" stroke="#222" stroke-width="0.03">ENO3</text>
<text x="246.80" y="302.18" font-size="6.6" textLength="13.72" lengthAdjust="spacingAndGlyphs" fill="#222" stroke="#222" stroke-width="0.03">0.016</text>
<text x="263.60" y="302.18" font-size="6.6" textLength="49.00" lengthAdjust="spacingAndGlyphs" fill="#222" stroke="#222" stroke-width="0.03">0.845(0.737−0.969)</text>
<text x="218.60" y="315.01" font-size="6.6" textLength="19.66" lengthAdjust="spacingAndGlyphs" fill="#222" stroke="#222" stroke-width="0.03">CXCR4</text>
<text x="246.80" y="315.01" font-size="6.6" textLength="13.72" lengthAdjust="spacingAndGlyphs" fill="#222" stroke="#222" stroke-width="0.03">0.070</text>
<text x="263.60" y="315.01" font-size="6.6" textLength="49.00" lengthAdjust="spacingAndGlyphs" fill="#222" stroke="#222" stroke-width="0.03">0.833(0.684−1.015)</text>
<text x="316.00" y="324.60" font-size="6.6" text-anchor="middle" fill="#222" stroke="#222" stroke-width="0.03">0.0</text>
<text x="334.75" y="324.60" font-size="6.6" text-anchor="middle" fill="#222" stroke="#222" stroke-width="0.03">0.5</text>
<text x="353.50" y="324.60" font-size="6.6" text-anchor="middle" fill="#222" stroke="#222" stroke-width="0.03">1.0</text>
<text x="372.25" y="324.60" font-size="6.6" text-anchor="middle" fill="#222" stroke="#222" stroke-width="0.03">1.5</text>
<text x="391.00" y="324.60" font-size="6.6" text-anchor="middle" fill="#222" stroke="#222" stroke-width="0.03">2.0</text>
<text x="342.20" y="334.50" font-size="6.8" textLength="29.70" lengthAdjust="spacingAndGlyphs" fill="#222" stroke="#222" stroke-width="0.03">Hazard ratio</text>
</g>
<g filter="url(#id0)"><text x="2.30" y="9.85" font-size="10.5" font-family="Liberation Sans" font-weight="bold" fill="#111" stroke="#111" stroke-width="0.1">A</text>
<rect x="249.4" y="0.80" width="34.25" height="2.97" fill="#9dd7ee" stroke="#0a2232" stroke-width="1.05"/>
<rect x="249.4" y="4.17" width="36.35" height="2.97" fill="#9dd7ee" stroke="#0a2232" stroke-width="1.05"/>
<rect x="249.4" y="7.54" width="37.15" height="2.97" fill="#9dd7ee" stroke="#0a2232" stroke-width="1.05"/>
<rect x="249.4" y="10.91" width="37.85" height="2.97" fill="#9dd7ee" stroke="#0a2232" stroke-width="1.05"/>
<rect x="249.4" y="14.28" width="37.85" height="2.97" fill="#9dd7ee" stroke="#0a2232" stroke-width="1.05"/>
<rect x="249.4" y="17.65" width="37.85" height="2.97" fill="#9dd7ee" stroke="#0a2232" stroke-width="1.05"/>
<rect x="249.4" y="21.02" width="37.85" height="2.97" fill="#9dd7ee" stroke="#0a2232" stroke-width="1.05"/>
<rect x="249.4" y="24.39" width="37.85" height="2.97" fill="#9dd7ee" stroke="#0a2232" stroke-width="1.05"/>
<rect x="249.4" y="27.76" width="37.85" height="2.97" fill="#9dd7ee" stroke="#0a2232" stroke-width="1.05"/>
<rect x="249.4" y="31.13" width="37.85" height="2.97" fill="#9dd7ee" stroke="#0a2232" stroke-width="1.05"/>
<rect x="249.4" y="34.50" width="37.85" height="2.97" fill="#9dd7ee" stroke="#0a2232" stroke-width="1.05"/>
<rect x="249.4" y="37.87" width="39.65" height="2.97" fill="#9dd7ee" stroke="#0a2232" stroke-width="1.05"/>
<rect x="249.4" y="41.24" width="39.65" height="2.97" fill="#9dd7ee" stroke="#0a2232" stroke-width="1.05"/>
<rect x="249.4" y="44.61" width="39.65" height="2.97" fill="#9dd7ee" stroke="#0a2232" stroke-width="1.05"/>
<rect x="249.4" y="47.98" width="39.65" height="2.97" fill="#9dd7ee" stroke="#0a2232" stroke-width="1.05"/>
<rect x="249.4" y="51.35" width="39.65" height="2.97" fill="#9dd7ee" stroke="#0a2232" stroke-width="1.05"/>
<rect x="249.4" y="54.72" width="41.85" height="2.97" fill="#9dd7ee" stroke="#0a2232" stroke-width="1.05"/>
<rect x="249.4" y="58.09" width="43.75" height="2.97" fill="#9dd7ee" stroke="#0a2232" stroke-width="1.05"/>
<rect x="249.4" y="61.46" width="43.75" height="2.97" fill="#9dd7ee" stroke="#0a2232" stroke-width="1.05"/>
<rect x="249.4" y="64.83" width="43.75" height="2.97" fill="#9dd7ee" stroke="#0a2232" stroke-width="1.05"/>
<rect x="249.4" y="68.20" width="43.75" height="2.97" fill="#9dd7ee" stroke="#0a2232" stroke-width="1.05"/>
<rect x="249.4" y="71.57" width="45.85" height="2.97" fill="#9dd7ee" stroke="#0a2232" stroke-width="1.05"/>
<rect x="249.4" y="74.94" width="47.65" height="2.97" fill="#9dd7ee" stroke="#0a2232" stroke-width="1.05"/>
<rect x="249.4" y="78.31" width="49.45" height="2.97" fill="#9dd7ee" stroke="#0a2232" stroke-width="1.05"/>
<rect x="249.4" y="81.68" width="49.45" height="2.97" fill="#9dd7ee" stroke="#0a2232" stroke-width="1.05"/>
<rect x="249.4" y="85.05" width="49.45" height="2.97" fill="#9dd7ee" stroke="#0a2232" stroke-width="1.05"/>
<rect x="249.4" y="88.42" width="51.15" height="2.97" fill="#9dd7ee" stroke="#0a2232" stroke-width="1.05"/>
<rect x="249.4" y="91.79" width="51.15" height="2.97" fill="#9dd7ee" stroke="#0a2232" stroke-width="1.05"/>
<rect x="249.4" y="95.16" width="51.15" height="2.97" fill="#9dd7ee" stroke="#0a2232" stroke-width="1.05"/>
<rect x="249.4" y="98.53" width="51.15" height="2.97" fill="#9dd7ee" stroke="#0a2232" stroke-width="1.05"/>
<rect x="249.4" y="101.90" width="53.15" height="2.97" fill="#9dd7ee" stroke="#0a2232" stroke-width="1.05"/>
<rect x="249.4" y="105.27" width="53.15" height="2.97" fill="#9dd7ee" stroke="#0a2232" stroke-width="1.05"/>
<rect x="249.4" y="108.64" width="53.15" height="2.97" fill="#9dd7ee" stroke="#0a2232" stroke-width="1.05"/>
<rect x="249.4" y="112.01" width="54.75" height="2.97" fill="#9dd7ee" stroke="#0a2232" stroke-width="1.05"/>
<rect x="249.4" y="115.38" width="58.65" height="2.97" fill="#9dd7ee" stroke="#0a2232" stroke-width="1.05"/>
<rect x="249.4" y="118.75" width="60.65" height="2.97" fill="#9dd7ee" stroke="#0a2232" stroke-width="1.05"/>
<rect x="249.4" y="122.12" width="60.65" height="2.97" fill="#9dd7ee" stroke="#0a2232" stroke-width="1.05"/>
<rect x="249.4" y="125.49" width="62.25" height="2.97" fill="#9dd7ee" stroke="#0a2232" stroke-width="1.05"/>
<rect x="249.4" y="128.86" width="63.85" height="2.97" fill="#9dd7ee" stroke="#0a2232" stroke-width="1.05"/>
<rect x="249.4" y="132.23" width="65.45" height="2.97" fill="#9dd7ee" stroke="#0a2232" stroke-width="1.05"/>
<rect x="249.4" y="135.60" width="67.65" height="2.97" fill="#9dd7ee" stroke="#0a2232" stroke-width="1.05"/>
<rect x="249.4" y="138.97" width="69.45" height="2.97" fill="#9dd7ee" stroke="#0a2232" stroke-width="1.05"/>
<rect x="249.4" y="142.34" width="69.45" height="2.97" fill="#9dd7ee" stroke="#0a2232" stroke-width="1.05"/>
<rect x="249.4" y="145.71" width="71.15" height="2.97" fill="#9dd7ee" stroke="#0a2232" stroke-width="1.05"/>
<rect x="249.4" y="149.08" width="72.95" height="2.97" fill="#9dd7ee" stroke="#0a2232" stroke-width="1.05"/>
<rect x="249.4" y="152.45" width="74.75" height="2.97" fill="#9dd7ee" stroke="#0a2232" stroke-width="1.05"/>
<rect x="249.4" y="155.82" width="99.65" height="2.97" fill="#9dd7ee" stroke="#0a2232" stroke-width="1.05"/>
<rect x="249.4" y="159.19" width="106.65" height="2.97" fill="#9dd7ee" stroke="#0a2232" stroke-width="1.05"/>
<rect x="249.4" y="162.56" width="110.05" height="2.97" fill="#9dd7ee" stroke="#0a2232" stroke-width="1.05"/>
<rect x="249.4" y="165.93" width="137.95" height="2.97" fill="#9dd7ee" stroke="#0a2232" stroke-width="1.05"/>
<text x="218.10" y="10.05" font-size="10.6" font-family="Liberation Sans" font-weight="bold" fill="#111" stroke="#111" stroke-width="0.1">B</text>
<text x="0.90" y="206.70" font-size="10.7" font-family="Liberation Sans" font-weight="bold" fill="#111" stroke="#111" stroke-width="0.1">C</text>
<text x="211.80" y="209.80" font-size="10.5" font-family="Liberation Sans" font-weight="bold" fill="#111" stroke="#111" stroke-width="0.1">D</text>
<path d="M132.70 209V316.6" stroke="#111" stroke-width="1.1" stroke-dasharray="4.5 4.5"/>
<path d="M150.25 214.00H183.76" stroke="#1f2d5c" stroke-width="1.2" fill="none"/><path d="M150.25 211.70V216.30M183.76 211.70V216.30" stroke="#141c3a" stroke-width="1.25" fill="none"/>
<circle cx="164.84" cy="214.00" r="2.2" fill="#e01e26"/>
<path d="M142.13 219.44H171.43" stroke="#1f2d5c" stroke-width="1.2" fill="none"/><path d="M142.13 217.14V221.74M171.43 217.14V221.74" stroke="#141c3a" stroke-width="1.25" fill="none"/>
<circle cx="154.80" cy="219.44" r="2.2" fill="#e01e26"/>
<path d="M125.22 224.88H132.29" stroke="#1f2d5c" stroke-width="1.2" fill="none"/><path d="M125.22 222.58V227.18M132.29 222.58V227.18" stroke="#141c3a" stroke-width="1.25" fill="none"/>
<ellipse cx="128.53" cy="224.88" rx="2.3" ry="2.0" fill="#7cba4c"/>
<path d="M133.21 230.32H149.39" stroke="#1f2d5c" stroke-width="1.2" fill="none"/><path d="M133.21 228.02V232.62M149.39 228.02V232.62" stroke="#141c3a" stroke-width="1.25" fill="none"/>
<circle cx="140.47" cy="230.32" r="2.2" fill="#e01e26"/>
<path d="M140.06 235.76H164.87" stroke="#1f2d5c" stroke-width="1.2" fill="none"/><path d="M140.06 233.46V238.06M164.87 233.46V238.06" stroke="#141c3a" stroke-width="1.25" fill="none"/>
<circle cx="150.95" cy="235.76" r="2.2" fill="#e01e26"/>
<path d="M134.17 241.20H142.61" stroke="#1f2d5c" stroke-width="1.2" fill="none"/><path d="M134.17 238.90V243.50M142.61 238.90V243.50" stroke="#141c3a" stroke-width="1.25" fill="none"/>
<circle cx="138.15" cy="241.20" r="2.2" fill="#e01e26"/>
<path d="M137.13 246.64H148.88" stroke="#1f2d5c" stroke-width="1.2" fill="none"/><path d="M137.13 244.34V248.94M148.88 244.34V248.94" stroke="#141c3a" stroke-width="1.25" fill="none"/>
<circle cx="142.57" cy="246.64" r="2.2" fill="#e01e26"/>
<path d="M138.37 252.08H149.52" stroke="#1f2d5c" stroke-width="1.2" fill="none"/><path d="M138.37 249.78V254.38M149.52 249.78V254.38" stroke="#141c3a" stroke-width="1.25" fill="none"/>
<circle cx="143.59" cy="252.08" r="2.2" fill="#e01e26"/>
<path d="M133.18 257.52H157.07" stroke="#1f2d5c" stroke-width="1.2" fill="none"/><path d="M133.18 255.22V259.82M157.07 255.22V259.82" stroke="#141c3a" stroke-width="1.25" fill="none"/>
<circle cx="143.47" cy="257.52" r="2.2" fill="#e01e26"/>
<path d="M122.03 262.96H128.88" stroke="#1f2d5c" stroke-width="1.2" fill="none"/><path d="M122.03 260.66V265.26M128.88 260.66V265.26" stroke="#141c3a" stroke-width="1.25" fill="none"/>
<ellipse cx="125.22" cy="262.96" rx="2.3" ry="2.0" fill="#7cba4c"/>
<path d="M134.55 268.40H145.57" stroke="#1f2d5c" stroke-width="1.2" fill="none"/><path d="M134.55 266.10V270.70M145.57 266.10V270.70" stroke="#141c3a" stroke-width="1.25" fill="none"/>
<circle cx="139.68" cy="268.40" r="2.2" fill="#e01e26"/>
<path d="M124.90 273.84H131.43" stroke="#1f2d5c" stroke-width="1.2" fill="none"/><path d="M124.90 271.54V276.14M131.43 271.54V276.14" stroke="#141c3a" stroke-width="1.25" fill="none"/>
<ellipse cx="127.95" cy="273.84" rx="2.3" ry="2.0" fill="#7cba4c"/>
<path d="M139.23 279.28H161.24" stroke="#1f2d5c" stroke-width="1.2" fill="none"/><path d="M139.23 276.98V281.58M161.24 276.98V281.58" stroke="#141c3a" stroke-width="1.25" fill="none"/>
<circle cx="149.01" cy="279.28" r="2.2" fill="#e01e26"/>
<path d="M134.77 284.72H152.96" stroke="#1f2d5c" stroke-width="1.2" fill="none"/><path d="M134.77 282.42V287.02M152.96 282.42V287.02" stroke="#141c3a" stroke-width="1.25" fill="none"/>
<circle cx="142.89" cy="284.72" r="2.2" fill="#e01e26"/>
<path d="M134.29 290.16H146.01" stroke="#1f2d5c" stroke-width="1.2" fill="none"/><path d="M134.29 287.86V292.46M146.01 287.86V292.46" stroke="#141c3a" stroke-width="1.25" fill="none"/>
<circle cx="139.71" cy="290.16" r="2.2" fill="#e01e26"/>
<path d="M135.53 295.60H162.00" stroke="#1f2d5c" stroke-width="1.2" fill="none"/><path d="M135.53 293.30V297.90M162.00 293.30V297.90" stroke="#141c3a" stroke-width="1.25" fill="none"/>
<circle cx="146.91" cy="295.60" r="2.2" fill="#e01e26"/>
<path d="M145.34 301.04H170.22" stroke="#1f2d5c" stroke-width="1.2" fill="none"/><path d="M145.34 298.74V303.34M170.22 298.74V303.34" stroke="#141c3a" stroke-width="1.25" fill="none"/>
<circle cx="156.43" cy="301.04" r="2.2" fill="#e01e26"/>
<path d="M124.83 306.48H132.03" stroke="#1f2d5c" stroke-width="1.2" fill="none"/><path d="M124.83 304.18V308.78M132.03 304.18V308.78" stroke="#141c3a" stroke-width="1.25" fill="none"/>
<ellipse cx="128.21" cy="306.48" rx="2.3" ry="2.0" fill="#7cba4c"/>
<path d="M123.18 311.92H131.39" stroke="#1f2d5c" stroke-width="1.2" fill="none"/><path d="M123.18 309.62V314.22M131.39 309.62V314.22" stroke="#141c3a" stroke-width="1.25" fill="none"/>
<ellipse cx="126.97" cy="311.92" rx="2.3" ry="2.0" fill="#7cba4c"/>
<path d="M100.4 316.5H180.97" stroke="#222" stroke-width="0.9"/>
<path d="M100.85 316.5V318.3" stroke="#222" stroke-width="0.9"/>
<path d="M116.77 316.5V318.3" stroke="#222" stroke-width="0.9"/>
<path d="M132.70 316.5V318.3" stroke="#222" stroke-width="0.9"/>
<path d="M148.62 316.5V318.3" stroke="#222" stroke-width="0.9"/>
<path d="M164.55 316.5V318.3" stroke="#222" stroke-width="0.9"/>
<path d="M180.47 316.5V318.3" stroke="#222" stroke-width="0.9"/>
<path d="M353.50 209V316.5" stroke="#111" stroke-width="1.2" stroke-dasharray="4.7 4.5"/>
<path d="M357.55 222.60H399.29M357.55 220.30V224.90M399.29 220.30V224.90" stroke="#1f2d5c" stroke-width="1.3" fill="none"/>
<circle cx="374.84" cy="222.60" r="2.4" fill="#e01e26"/>
<path d="M341.73 235.43H354.14M341.73 233.13V237.73M354.14 233.13V237.73" stroke="#1f2d5c" stroke-width="1.3" fill="none"/>
<ellipse cx="347.31" cy="235.43" rx="2.3" ry="1.8" fill="#7cba4c"/>
<path d="M338.12 248.26H354.51M338.12 245.96V250.56M354.51 245.96V250.56" stroke="#1f2d5c" stroke-width="1.3" fill="none"/>
<ellipse cx="345.18" cy="248.26" rx="2.3" ry="1.8" fill="#7cba4c"/>
<path d="M352.41 261.09H367.56M352.41 258.79V263.39M367.56 258.79V263.39" stroke="#1f2d5c" stroke-width="1.3" fill="none"/>
<circle cx="359.35" cy="261.09" r="2.4" fill="#e01e26"/>
<path d="M344.69 273.92H354.85M344.69 271.62V276.22M354.85 271.62V276.22" stroke="#1f2d5c" stroke-width="1.3" fill="none"/>
<ellipse cx="349.38" cy="273.92" rx="2.3" ry="1.8" fill="#7cba4c"/>
<path d="M356.09 286.75H376.04M356.09 284.45V289.05M376.04 284.45V289.05" stroke="#1f2d5c" stroke-width="1.3" fill="none"/>
<circle cx="365.09" cy="286.75" r="2.4" fill="#e01e26"/>
<path d="M343.64 299.58H352.34M343.64 297.28V301.88M352.34 297.28V301.88" stroke="#1f2d5c" stroke-width="1.3" fill="none"/>
<ellipse cx="347.69" cy="299.58" rx="2.3" ry="1.8" fill="#7cba4c"/>
<path d="M341.65 312.41H354.06M341.65 310.11V314.71M354.06 310.11V314.71" stroke="#1f2d5c" stroke-width="1.3" fill="none"/>
<ellipse cx="347.24" cy="312.41" rx="2.3" ry="1.8" fill="#7cba4c"/>
<path d="M316 316.5H391.50" stroke="#222" stroke-width="0.9"/>
<path d="M316.00 316.5V318.3" stroke="#222" stroke-width="0.9"/>
<path d="M334.75 316.5V318.3" stroke="#222" stroke-width="0.9"/>
<path d="M353.50 316.5V318.3" stroke="#222" stroke-width="0.9"/>
<path d="M372.25 316.5V318.3" stroke="#222" stroke-width="0.9"/>
<path d="M391.00 316.5V318.3" stroke="#222" stroke-width="0.9"/>
<line x1="247.6" y1="0" x2="247.6" y2="170" stroke="#e3d6de" stroke-width="0.6"/>
<path d="M249 173.6H396.5" stroke="#333" stroke-width="0.9" fill="none"/>
<path d="M249.00 173.6V176.6" stroke="#333" stroke-width="0.9"/>
<path d="M285.75 173.6V176.6" stroke="#333" stroke-width="0.9"/>
<path d="M322.50 173.6V176.6" stroke="#333" stroke-width="0.9"/>
<path d="M359.25 173.6V176.6" stroke="#333" stroke-width="0.9"/>
<path d="M396.00 173.6V176.6" stroke="#333" stroke-width="0.9"/></g>
</svg></div>
</body></html>
